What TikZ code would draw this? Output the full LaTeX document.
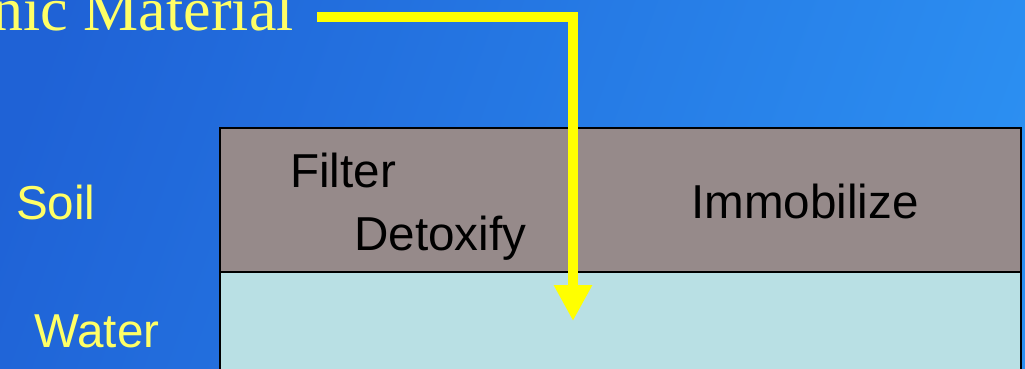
\documentclass[tikz,border=0pt]{standalone}
\usepackage{fontspec}
\setmainfont{Liberation Sans}
\newfontfamily\seriffont{Liberation Serif}
\usetikzlibrary{arrows.meta}
\definecolor{bgleft}{HTML}{1F62D6}
\definecolor{bgright}{HTML}{2C90F2}
\definecolor{soilgray}{HTML}{968A8A}
\definecolor{watercyan}{HTML}{B9E0E4}
\definecolor{labelyellow}{HTML}{FFFF66}
\definecolor{arrowyellow}{HTML}{FFFF00}
\tikzset{
  layerbox/.style={draw=black, line width=2.3pt, inner sep=0pt, outer sep=0pt, anchor=north west, minimum width=801pt},
  sidelabel/.style={inner sep=0pt, anchor=base west, text=labelyellow, font=\fontsize{47.6}{50}\selectfont},
  actlabel/.style={inner sep=0pt, anchor=base west, text=black, font=\fontsize{47.6}{50}\selectfont},
  titlelabel/.style={inner sep=0pt, anchor=base east, text=labelyellow, font=\seriffont\fontsize{62}{64}\selectfont},
  flow/.style={draw=arrowyellow, line width=10pt, line join=miter, line cap=butt, -{Triangle[length=36pt,width=36pt]}}
}
\begin{document}
\begin{tikzpicture}[x=1pt,y=-1pt]
\useasboundingbox (0,0) rectangle (1025,368);
\shade[shading=axis, left color=bgleft, right color=bgright, shading angle=70] (-60,-60) rectangle (1085,428);
% layers
\node[layerbox, fill=watercyan, minimum height=110pt] (water) at (220,272) {};
\node[layerbox, fill=soilgray, minimum height=144pt] (soil) at (220,128) {};
% labels
\node[titlelabel] (mat) at (294,30) {Organic Material};
\node[sidelabel] (soillbl) at (16,219) {Soil};
\node[sidelabel] (waterlbl) at (34,347) {Water};
\node[actlabel] (filter) at (290,187) {Filter};
\node[actlabel] (detox) at (354,250) {Detoxify};
\node[actlabel] (immob) at (691,218) {Immobilize};
% arrow
\coordinate (start) at ([xshift=23pt,yshift=13pt]mat.base east);
\coordinate (tip) at (573,321);
\draw[flow] (start) -| (tip);
\end{tikzpicture}
\end{document}
